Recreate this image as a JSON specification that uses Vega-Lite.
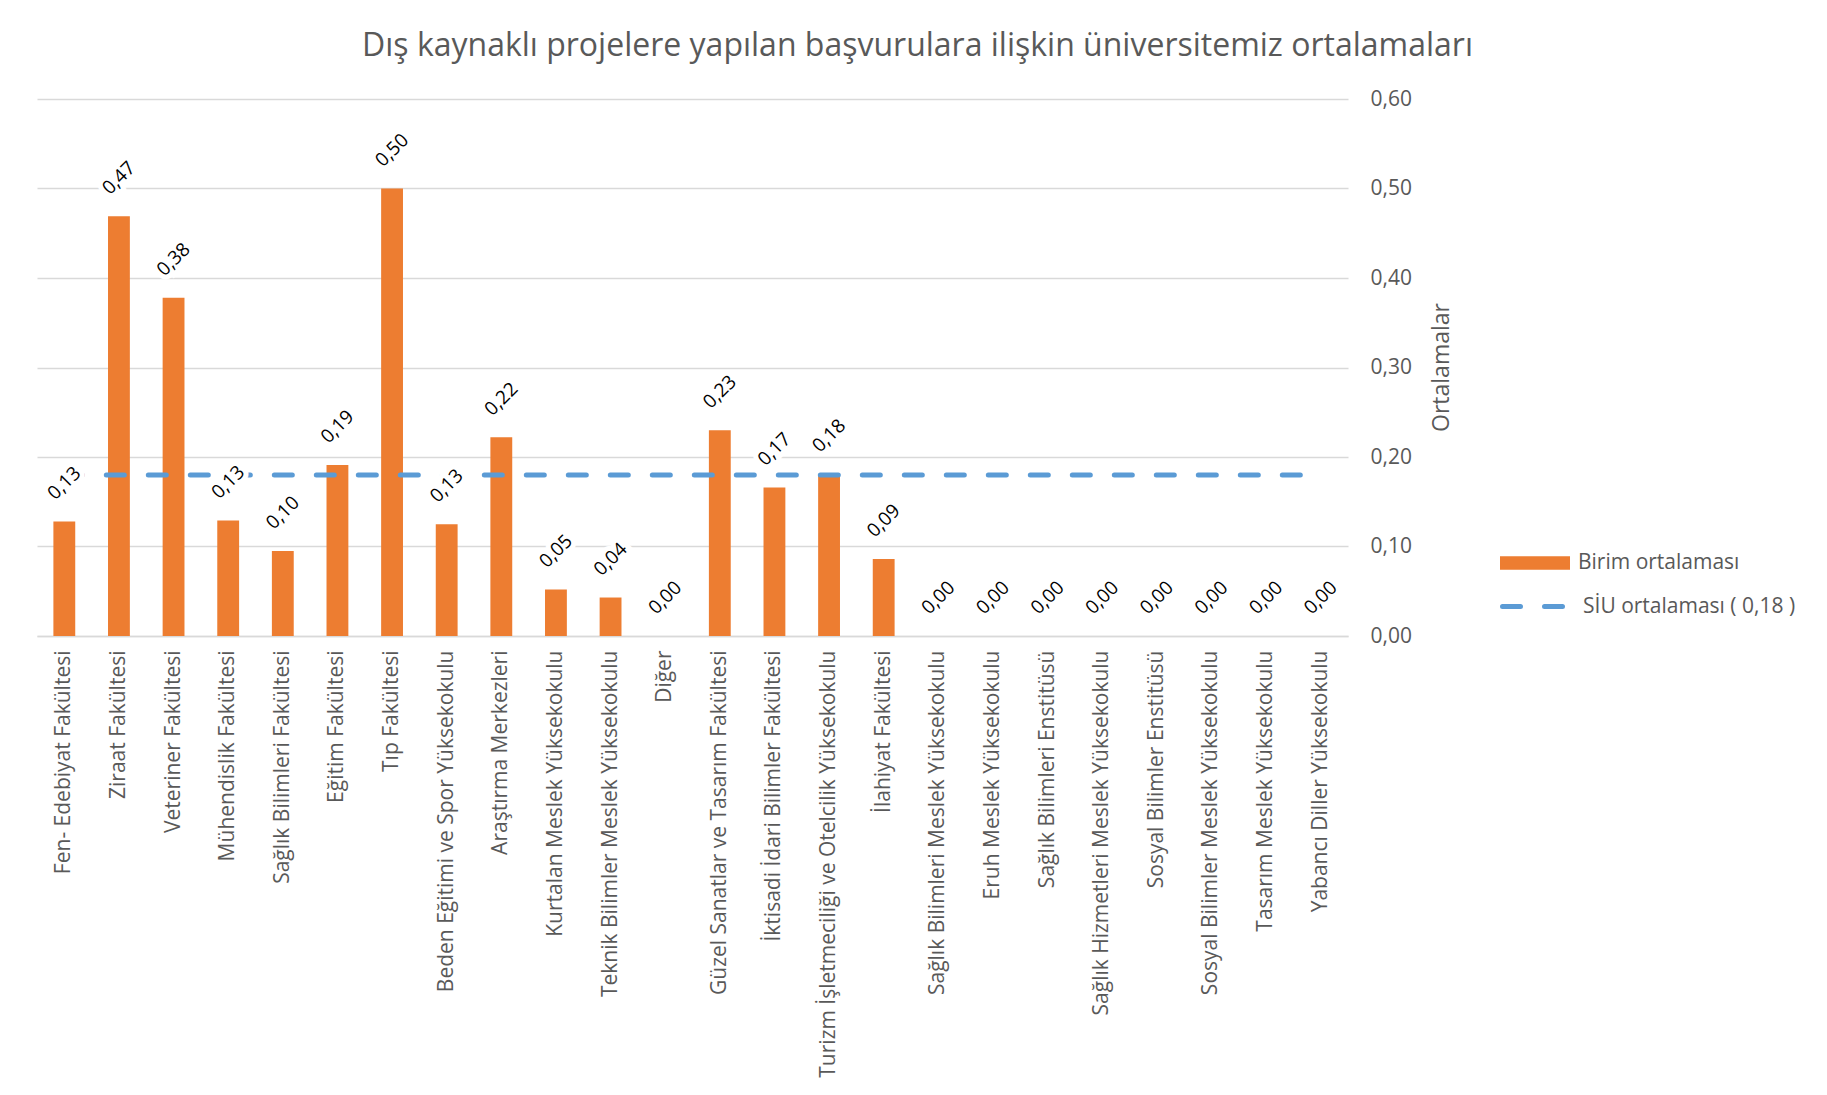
{
  "$schema": "https://vega.github.io/schema/vega-lite/v6.json",
  "width": 1311,
  "height": 537,
  "autosize": {"type": "none"},
  "padding": {"left": 37, "top": 99, "right": 479, "bottom": 459},
  "title": {
    "text": "Dış kaynaklı projelere yapılan başvurulara ilişkin üniversitemiz ortalamaları",
    "font": "Open Sans",
    "fontSize": 32,
    "fontWeight": "normal",
    "color": "#595959",
    "anchor": "middle",
    "dx": 225,
    "offset": 25
  },
  "data": {
    "values": [
      {"birim": "Fen- Edebiyat Fakültesi", "ort": 0.128, "siu": 0.18},
      {"birim": "Ziraat Fakültesi", "ort": 0.469, "siu": 0.18},
      {"birim": "Veteriner Fakültesi", "ort": 0.378, "siu": 0.18},
      {"birim": "Mühendislik Fakültesi", "ort": 0.129, "siu": 0.18},
      {"birim": "Sağlık Bilimleri Fakültesi", "ort": 0.095, "siu": 0.18},
      {"birim": "Eğitim Fakültesi", "ort": 0.191, "siu": 0.18},
      {"birim": "Tıp Fakültesi", "ort": 0.5, "siu": 0.18},
      {"birim": "Beden Eğitimi ve Spor Yüksekokulu", "ort": 0.125, "siu": 0.18},
      {"birim": "Araştırma Merkezleri", "ort": 0.222, "siu": 0.18},
      {"birim": "Kurtalan Meslek Yüksekokulu", "ort": 0.052, "siu": 0.18},
      {"birim": "Teknik Bilimler Meslek Yüksekokulu", "ort": 0.043, "siu": 0.18},
      {"birim": "Diğer", "ort": 0, "siu": 0.18},
      {"birim": "Güzel Sanatlar ve Tasarım Fakültesi", "ort": 0.23, "siu": 0.18},
      {"birim": "İktisadi İdari Bilimler Fakültesi", "ort": 0.166, "siu": 0.18},
      {"birim": "Turizm İşletmeciliği ve Otelcilik Yüksekokulu", "ort": 0.181, "siu": 0.18},
      {"birim": "İlahiyat Fakültesi", "ort": 0.086, "siu": 0.18},
      {"birim": "Sağlık Bilimleri Meslek Yüksekokulu", "ort": 0, "siu": 0.18},
      {"birim": "Eruh Meslek Yüksekokulu", "ort": 0, "siu": 0.18},
      {"birim": "Sağlık Bilimleri Enstitüsü", "ort": 0, "siu": 0.18},
      {"birim": "Sağlık Hizmetleri Meslek Yüksekokulu", "ort": 0, "siu": 0.18},
      {"birim": "Sosyal Bilimler Enstitüsü", "ort": 0, "siu": 0.18},
      {"birim": "Sosyal Bilimler Meslek Yüksekokulu", "ort": 0, "siu": 0.18},
      {"birim": "Tasarım Meslek Yüksekokulu", "ort": 0, "siu": 0.18},
      {"birim": "Yabancı Diller Yüksekokulu", "ort": 0, "siu": 0.18}
    ]
  },
  "encoding": {
    "x": {
      "field": "birim",
      "type": "nominal",
      "sort": null,
      "scale": {"paddingInner": 0.6, "paddingOuter": 0.3},
      "axis": {
        "title": null,
        "labelAngle": -90,
        "labelAlign": "right",
        "labelBaseline": "middle",
        "labelPadding": 14,
        "labelLimit": 600,
        "labelFont": "Open Sans",
        "labelFontSize": 21,
        "labelColor": "#595959",
        "ticks": false,
        "domainColor": "#D9D9D9",
        "domainWidth": 1.5
      }
    }
  },
  "layer": [
    {
      "mark": {"type": "bar"},
      "encoding": {
        "y": {
          "field": "ort",
          "type": "quantitative",
          "scale": {"domain": [0, 0.6]},
          "axis": {
            "orient": "right",
            "values": [0, 0.1, 0.2, 0.3, 0.4, 0.5, 0.6],
            "format": ".2f",
            "grid": true,
            "gridColor": "#D9D9D9",
            "gridWidth": 1.5,
            "domain": false,
            "ticks": false,
            "labelPadding": 22,
            "labelFont": "Open Sans",
            "labelFontSize": 21,
            "labelColor": "#595959",
            "title": "Ortalamalar",
            "titleAngle": 270,
            "titleX": 93,
            "titleY": 268,
            "titleAlign": "center",
            "titleBaseline": "middle",
            "titleFont": "Open Sans",
            "titleFontSize": 23,
            "titleFontWeight": "normal",
            "titleColor": "#595959"
          }
        },
        "fill": {
          "datum": "Birim ortalaması",
          "scale": {"range": ["#ED7D31"]},
          "legend": {
            "orient": "none",
            "legendX": 1463,
            "legendY": 429,
            "title": null,
            "symbolType": "M-1,-0.19H1V0.19H-1Z",
            "symbolSize": 4900,
            "symbolStrokeWidth": 0,
            "labelFont": "Open Sans",
            "labelFontSize": 21,
            "labelColor": "#595959",
            "labelOffset": 8,
            "labelLimit": 400
          }
        }
      }
    },
    {
      "mark": {"type": "line", "color": "#5B9BD5", "strokeWidth": 5, "strokeCap": "round"},
      "encoding": {
        "y": {"field": "siu", "type": "quantitative"},
        "strokeDash": {
          "datum": "SİU ortalaması  ( 0,18 )",
          "scale": {"range": [[18, 24]]},
          "legend": {
            "orient": "none",
            "legendX": 1463,
            "legendY": 470,
            "title": null,
            "symbolType": "stroke",
            "symbolSize": 4900,
            "symbolStrokeColor": "#5B9BD5",
            "symbolStrokeWidth": 5,
            "labelFont": "Open Sans",
            "labelFontSize": 21,
            "labelColor": "#595959",
            "labelOffset": 8,
            "labelLimit": 400,
            "encode": {"symbols": {"update": {"strokeCap": {"value": "round"}}}}
          }
        }
      }
    },
    {
      "mark": {"type": "text", "angle": 315, "dx": 27, "dy": -27, "align": "center", "baseline": "middle", "font": "Open Sans", "fontSize": 19, "fill": "white", "stroke": "white", "strokeWidth": 10},
      "encoding": {
        "y": {"field": "ort", "type": "quantitative"},
        "text": {"field": "ort", "type": "quantitative", "format": ".2f"}
      }
    },
    {
      "mark": {"type": "text", "angle": 315, "dx": 27, "dy": -27, "align": "center", "baseline": "middle", "font": "Open Sans", "fontSize": 19, "color": "#000000"},
      "encoding": {
        "y": {"field": "ort", "type": "quantitative"},
        "text": {"field": "ort", "type": "quantitative", "format": ".2f"}
      }
    }
  ],
  "config": {
    "view": {"stroke": null},
    "locale": {"number": {"decimal": ",", "thousands": ".", "grouping": [3], "currency": ["", ""]}}
  }
}
